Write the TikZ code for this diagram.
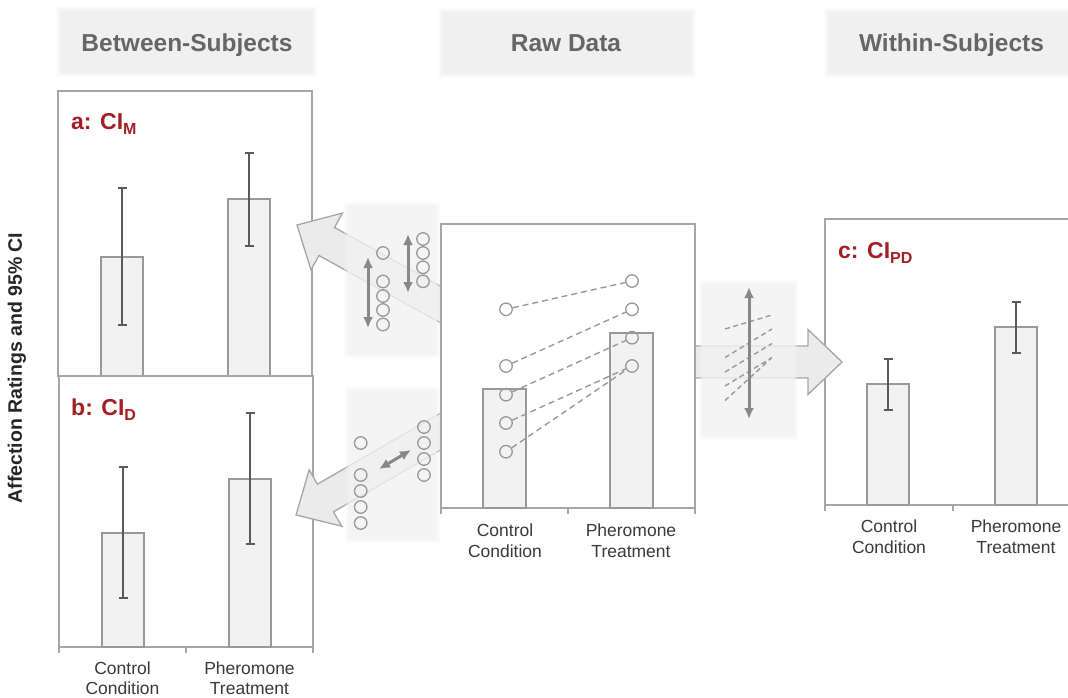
\documentclass[tikz,border=0pt]{standalone}
\usepackage{fontspec}
\setmainfont{Liberation Sans}
\usetikzlibrary{arrows.meta}
\definecolor{boxgray}{HTML}{A6A6A6}
\definecolor{barfill}{HTML}{F2F2F2}
\definecolor{errgray}{HTML}{5A5A5A}
\definecolor{hdrfill}{HTML}{F0F0F0}
\definecolor{hdrtext}{HTML}{666666}
\definecolor{lbltext}{HTML}{3A3A3A}
\definecolor{redlbl}{HTML}{A31F24}
\definecolor{dotgray}{HTML}{999999}
\definecolor{arrfill}{HTML}{EBEBEB}
\definecolor{regionfill}{HTML}{F2F2F2}
\definecolor{minigray}{HTML}{888888}
\newcommand\ebar[3]{\draw[errbar] ({#1-4.5},#2) -- ({#1+4.5},#2) (#1,#2) -- (#1,#3) ({#1-4.5},#3) -- ({#1+4.5},#3);}
\newcommand\blockarrow[4]{%
  \begin{scope}[shift={(#1,#2)}, rotate=#3]
    \draw[blockarr] (0,0) -- (34,-32.5) -- (34,-16) -- (#4,-16) -- (#4,16) -- (34,16) -- (34,32.5) -- cycle;
  \end{scope}}
\begin{document}
\begin{tikzpicture}[x=1pt,y=-1pt, line join=miter,
  frame/.style={draw=boxgray, line width=1.4pt},
  bar/.style={draw=dotgray, fill=barfill, line width=1.4pt},
  errbar/.style={draw=errgray, line width=2.6pt},
  dot/.style={circle, draw=dotgray, line width=1.3pt, minimum size=12.5pt, inner sep=0pt},
  conn/.style={draw=dotgray, line width=1.4pt, dash pattern=on 6pt off 4pt},
  miniarr/.style={draw=minigray, line width=3pt, {Latex[length=11pt,width=10pt]}-{Latex[length=11pt,width=10pt]}},
  blockarr/.style={draw=boxgray, fill=arrfill, line width=1.3pt},
  hdr/.style={font=\fontsize{24.5}{24.5}\selectfont\bfseries, text=hdrtext, anchor=base, inner sep=0pt},
  cat/.style={font=\fontsize{17.5}{20.5}\selectfont, text=lbltext, align=center, inner sep=0pt},
  panel/.style={font=\fontsize{23}{23}\selectfont\bfseries, text=redlbl, anchor=base west, inner sep=0pt},
]
\useasboundingbox (0,0) rectangle (1068,698);
\fill[white] (0,0) rectangle (1068,698);

% header boxes (soft edges)
\foreach \xa/\ya/\xb/\yb/\nm in {60/10/313/73/hbBetween, 442/12/692/74/hbRaw, 828/12/1071/74/hbWithin}{
  \fill[hdrfill!25] (\xa-4,\ya-4) rectangle (\xb+4,\yb+4);
  \fill[hdrfill!60] (\xa-2,\ya-2) rectangle (\xb+2,\yb+2);
  \fill[hdrfill] (\xa,\ya) rectangle (\xb,\yb);
}
\node[hdr] (hBetween) at (187,51.5) {Between-Subjects};
\node[hdr] (hRaw) at (566,51.5) {Raw Data};
\node[hdr] (hWithin) at (951.5,51.5) {Within-Subjects};

% y label
\node[rotate=90, font=\fontsize{19.5}{19.5}\selectfont\bfseries, text=black!85] (ylab) at (17,368) {Affection Ratings and 95\% CI};

% panel a
\draw[frame] (58,91) rectangle (312,376);
\draw[bar] (101,376) rectangle (143,257);
\draw[bar] (228,376) rectangle (270,199);
\ebar{122}{188}{325}
\ebar{249}{153}{246}
\node[panel] (la) at (71,130) {a: CI\raisebox{-5pt}{\fontsize{16}{16}\selectfont M}};

% panel b
\draw[frame] (59,647) -- (59,376) -- (313,376) -- (313,647);
\draw[frame] (59,647) -- (313,647) (59,647) -- (59,653) (186,647) -- (186,653) (313,647) -- (313,653);
\draw[bar] (102,647) rectangle (144,533);
\draw[bar] (229,647) rectangle (271,479);
\ebar{123}{467}{598}
\ebar{250}{413}{544}
\node[panel] (lb) at (71,415) {b: CI\raisebox{-5pt}{\fontsize{16}{16}\selectfont D}};
\node[cat] (bx1) at (122.5,678) {Control\\Condition};
\node[cat] (bx2) at (249.5,678) {Pheromone\\Treatment};

% panel c
\draw[frame] (1080,219) -- (825,219) -- (825,505) -- (1080,505);
\draw[frame] (825,505) -- (825,511) (953,505) -- (953,511);
\draw[bar] (867,505) rectangle (909,384);
\draw[bar] (995,505) rectangle (1037,327);
\ebar{888}{359}{410}
\ebar{1016}{302}{353}
\node[panel] (lc) at (838,258) {c: CI\raisebox{-5pt}{\fontsize{16}{16}\selectfont PD}};
\node[cat] (cx1) at (889,536.5) {Control\\Condition};
\node[cat] (cx2) at (1016,536.5) {Pheromone\\Treatment};

% block arrows
\blockarrow{297}{225}{-29}{190}
\blockarrow{296}{515}{30}{190}
\blockarrow{842}{362}{180}{165}

% shaded regions (soft edges)
\foreach \xa/\ya/\xb/\yb in {347/205/437/355, 348/390/437/540, 702/283/795/437}{
  \fill[regionfill, opacity=0.35] (\xa-3,\ya-3) rectangle (\xb+3,\yb+3);
  \fill[regionfill, opacity=0.7] (\xa,\ya) rectangle (\xb,\yb);
}

% raw data panel
\draw[frame, fill=white] (441,224) rectangle (695,508);
\draw[frame] (441,508) -- (441,514) (568,508) -- (568,514) (695,508) -- (695,514);
\draw[bar] (483,508) rectangle (526,389);
\draw[bar] (610,508) rectangle (653,333);
\node[cat] (rx1) at (505,540.5) {Control\\Condition};
\node[cat] (rx2) at (631,540.5) {Pheromone\\Treatment};
\node[dot] (c1) at (506,309.3) {};
\node[dot] (c2) at (506,366) {};
\node[dot] (c3) at (506,394.7) {};
\node[dot] (c4) at (506,423) {};
\node[dot] (c5) at (506,451.7) {};
\node[dot] (t1) at (632,281) {};
\node[dot] (t2) at (632,309.3) {};
\node[dot] (t3) at (632,337.7) {};
\node[dot] (t4) at (632,366) {};
\draw[conn] (c1) -- (t1);
\draw[conn] (c2) -- (t2);
\draw[conn] (c3) -- (t3);
\draw[conn] (c4) -- (t4);
\draw[conn] (c5) -- (t4);

% upper mini (CI_M)
\foreach \y [count=\i] in {253,281.5,296,310,324.5} \node[dot] (ua\i) at (383,\y) {};
\foreach \y [count=\i] in {239,253,267.3,281.3} \node[dot] (ub\i) at (423,\y) {};
\coordinate (uaTop) at (368,257); \coordinate (uaBot) at (368,328);
\coordinate (ubTop) at (408,234); \coordinate (ubBot) at (408,293);
\draw[miniarr] (uaTop) -- (uaBot);
\draw[miniarr] (ubTop) -- (ubBot);

% lower mini (CI_D)
\foreach \y [count=\i] in {443,475,491,507,523} \node[dot] (la\i) at (360.7,\y) {};
\foreach \y [count=\i] in {427,443,459,475} \node[dot] (lb\i) at (424,\y) {};
\coordinate (ldA) at (379,469); \coordinate (ldB) at (411,450);
\draw[miniarr] (ldA) -- (ldB);

% right mini (CI_PD)
\coordinate (m1a) at (725,329); \coordinate (m1b) at (772,315);
\coordinate (m2a) at (725,357.5); \coordinate (m2b) at (772,329);
\coordinate (m3a) at (725,372); \coordinate (m3b) at (772,343.5);
\coordinate (m4a) at (725,386); \coordinate (m4b) at (772,357.5);
\coordinate (m5a) at (725,400.5); \coordinate (m5b) at (772,357.5);
\draw[conn, dash pattern=on 5pt off 3.5pt] (m1a) -- (m1b) (m2a) -- (m2b) (m3a) -- (m3b) (m4a) -- (m4b) (m5a) -- (m5b);
\coordinate (rTop) at (749,287); \coordinate (rBot) at (749,419);
\draw[miniarr] (rTop) -- (rBot);
\end{tikzpicture}
\end{document}
